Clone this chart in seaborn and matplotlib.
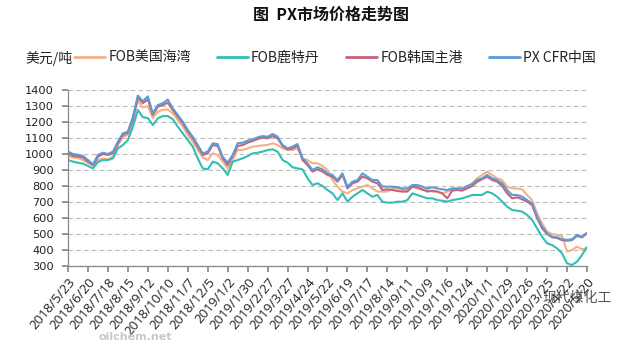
import numpy as np
import pandas as pd
import matplotlib
matplotlib.use("Agg")
import matplotlib.pyplot as plt
from matplotlib.lines import Line2D
import seaborn as sns

# ---------------- data ----------------
start_date = "2018-05-23"
n_weeks = 105
series_names = ["FOB美国海湾", "FOB鹿特丹", "FOB韩国主港", "PX CFR中国"]
series_colors = ["#F4B183", "#2FBFB3", "#C8627A", "#5B9BD5"]

fob_usgulf = [990, 977, 975, 962, 945, 928, 962, 972, 967, 983,
              1056, 1108, 1119, 1205, 1335, 1290, 1300, 1223, 1265, 1275,
              1279, 1254, 1212, 1171, 1119, 1077, 1025, 979, 962, 1004,
              994, 952, 910, 962, 1025, 1025, 1035, 1046, 1050, 1054,
              1056, 1067, 1056, 1035, 1025, 1025, 1035, 973, 962, 942,
              942, 925, 900, 837, 796, 765, 754, 775, 785, 796,
              806, 785, 765, 765, 765, 785, 785, 775, 775, 796,
              785, 775, 775, 765, 765, 754, 765, 775, 775, 775,
              792, 817, 848, 869, 890, 869, 848, 837, 796, 785,
              785, 779, 744, 712, 629, 567, 515, 500, 494, 487,
              390, 400, 421, 404, 412]
fob_rotterdam = [963, 952, 945, 940, 925, 910, 950, 962, 962, 973,
                 1035, 1056, 1087, 1170, 1275, 1230, 1225, 1181, 1223, 1237,
                 1237, 1217, 1171, 1129, 1087, 1046, 973, 910, 904, 952,
                 942, 910, 869, 952, 962, 973, 987, 1004, 1008, 1015,
                 1025, 1029, 1015, 962, 946, 917, 910, 904, 848, 806,
                 817, 800, 775, 754, 712, 754, 702, 733, 754, 775,
                 754, 733, 744, 702, 696, 696, 702, 702, 712, 754,
                 744, 733, 723, 723, 712, 708, 702, 712, 717, 723,
                 733, 744, 744, 744, 764, 754, 733, 702, 671, 650,
                 646, 640, 619, 588, 535, 483, 442, 431, 410, 379,
                 317, 306, 327, 369, 418]
fob_korea = [1005, 988, 985, 977, 952, 930, 983, 1000, 994, 1004,
             1067, 1119, 1133, 1220, 1355, 1318, 1340, 1244, 1296, 1306,
             1320, 1275, 1233, 1192, 1140, 1098, 1046, 994, 1004, 1056,
             1050, 973, 931, 987, 1050, 1056, 1071, 1081, 1094, 1102,
             1098, 1112, 1098, 1050, 1029, 1035, 1052, 962, 931, 890,
             904, 890, 869, 858, 827, 869, 785, 817, 827, 858,
             848, 827, 817, 775, 779, 775, 769, 765, 765, 796,
             792, 779, 765, 771, 765, 754, 723, 771, 775, 771,
             785, 800, 827, 842, 858, 837, 827, 800, 754, 723,
             729, 717, 702, 681, 598, 535, 500, 479, 475, 462,
             458, 462, 488, 479, 504]
px_cfr_china = [1015, 1000, 995, 988, 962, 935, 994, 1008, 1000, 1015,
                1077, 1129, 1140, 1230, 1365, 1330, 1360, 1254, 1306, 1317,
                1340, 1285, 1244, 1202, 1150, 1108, 1056, 1004, 1015, 1067,
                1062, 983, 946, 994, 1067, 1071, 1083, 1092, 1104, 1112,
                1108, 1125, 1108, 1056, 1035, 1046, 1062, 973, 942, 900,
                917, 904, 879, 869, 837, 879, 796, 827, 837, 879,
                858, 837, 837, 796, 796, 796, 792, 785, 785, 806,
                806, 796, 785, 792, 785, 779, 775, 785, 785, 785,
                800, 812, 837, 848, 869, 848, 837, 817, 775, 744,
                744, 733, 712, 692, 608, 546, 504, 483, 479, 467,
                463, 467, 494, 483, 508]

tick_labels = ["2018/5/23", "2018/6/20", "2018/7/18", "2018/8/15", "2018/9/12",
               "2018/10/10", "2018/11/7", "2018/12/5", "2019/1/2", "2019/1/30",
               "2019/2/27", "2019/3/27", "2019/4/24", "2019/5/22", "2019/6/19",
               "2019/7/17", "2019/8/14", "2019/9/11", "2019/10/9", "2019/11/6",
               "2019/12/4", "2020/1/1", "2020/1/29", "2020/2/26", "2020/3/25",
               "2020/4/22", "2020/5/20"]

dates = pd.date_range(start_date, periods=n_weeks, freq="7D")
values = [fob_usgulf, fob_rotterdam, fob_korea, px_cfr_china]
df = pd.concat([pd.DataFrame({"date": dates, "price": v, "series": name})
                for name, v in zip(series_names, values)], ignore_index=True)

# ---------------- style ----------------
sns.set_theme(style="white")
plt.rcParams["font.family"] = ["DejaVu Sans", "Noto Sans CJK SC"]
cjk = ["Noto Sans CJK SC", "DejaVu Sans"]

fig = plt.figure(figsize=(6.3, 3.57), dpi=100)
ax = fig.add_axes([68 / 630, 1 - 266 / 357, 519 / 630, 176 / 357])

sns.lineplot(data=df, x="date", y="price", hue="series", hue_order=series_names,
             palette=series_colors, linewidth=1.5, ax=ax, legend=False)

ax.set_ylim(300, 1400)
ax.set_yticks(np.arange(300, 1401, 100))
tick_dates = pd.to_datetime(tick_labels, format="%Y/%m/%d")
ax.set_xlim(tick_dates[0], tick_dates[-1])
ax.set_xticks(tick_dates)
ax.set_xticklabels(tick_labels, rotation=50, ha="right", rotation_mode="anchor",
                   fontsize=9.5, family=["Open Sans", "DejaVu Sans"])
ax.tick_params(axis="y", labelsize=8.2, length=4, color="#888888", pad=6,
               labelcolor="#222222")
ax.tick_params(axis="x", length=4, color="#888888", pad=3, labelcolor="#222222")
ax.tick_params(bottom=True, left=True)
ax.set_xlabel("")
ax.set_ylabel("")
ax.grid(axis="y", linestyle=(0, (4, 3)), color="#BBBBBB", linewidth=0.8)
ax.grid(axis="x", visible=False)
for s in ["top", "right"]:
    ax.spines[s].set_visible(False)
for s in ["left", "bottom"]:
    ax.spines[s].set_color("#888888")
    ax.spines[s].set_linewidth(0.9)

# title
fig.text(331 / 630, 1 - 15 / 357, "图  PX市场价格走势图", ha="center", va="center",
         fontsize=11.5, fontweight="bold", family=cjk, color="#111111")
# unit
fig.text(25 / 630, 1 - 58 / 357, "美元/吨", ha="left", va="center",
         fontsize=10, family=cjk, color="#222222")
# legend
handles = [Line2D([0], [0], color=c, lw=2) for c in series_colors]
leg = fig.legend(handles, series_names, loc="center left", ncol=4, frameon=False,
                 bbox_to_anchor=(70 / 630, 1 - 58 / 357),
                 prop={"family": cjk, "size": 10}, handlelength=2.2,
                 handletextpad=0.25, columnspacing=1.9, borderaxespad=0,
                 borderpad=0.3)
for t in leg.get_texts():
    t.set_color("#222222")

# watermarks
fig.text(135 / 630, 1 - 337 / 357, "oilchem.net", ha="center", va="center",
         fontsize=8, color="#C8C8C8", fontweight="bold")
fig.text(612 / 630, 1 - 298 / 357, "现代煤化工", ha="right", va="center",
         fontsize=10, family=cjk, color="#555555")

fig.savefig("out.png", dpi=100)
